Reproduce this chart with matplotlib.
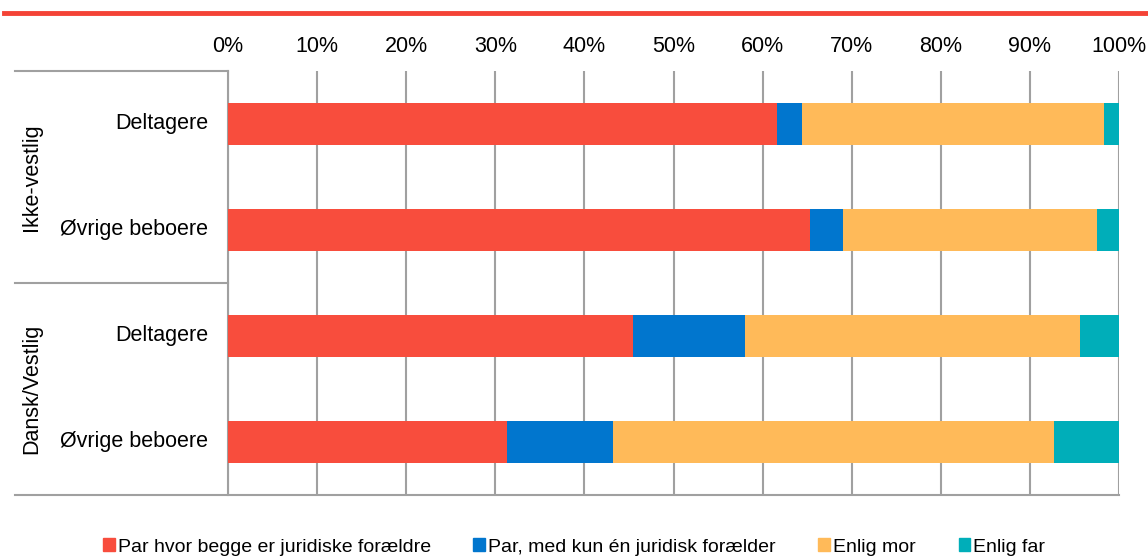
import numpy as np
import matplotlib.pyplot as plt
from matplotlib.lines import Line2D
from matplotlib.patches import Patch

plt.rcParams['font.family'] = ['Liberation Sans', 'DejaVu Sans']

# data (andele i procent)
kategorier = ["Deltagere", "Øvrige beboere", "Deltagere", "Øvrige beboere"]
grupper = ["Ikke-vestlig", "Dansk/Vestlig"]
serier = ["Par hvor begge er juridiske forældre", "Par, med kun én juridisk forælder",
          "Enlig mor", "Enlig far"]
par_begge = [61.6, 65.3, 45.5, 31.3]
par_en = [2.8, 3.7, 12.5, 11.9]
enlig_mor = [33.9, 28.5, 37.6, 49.5]
enlig_far = [1.7, 2.5, 4.4, 7.3]
farver = ["#F84D3D", "#0176CE", "#FFBA59", "#00AEB9"]

fig = plt.figure(figsize=(11.48, 5.56), dpi=100)
ax = fig.add_axes([228/1148, 1-495/556, (1119-228)/1148, (495-71)/556])

y = np.arange(len(kategorier))
venstre = np.zeros(len(kategorier))
for vals, farve, navn in zip([par_begge, par_en, enlig_mor, enlig_far], farver, serier):
    ax.barh(y, vals, left=venstre, height=0.4, color=farve, label=navn, zorder=3)
    venstre += np.array(vals)

ax.set_ylim(3.5, -0.5)
ax.set_xlim(0, 100)
ax.set_xticks(np.arange(0, 101, 10))
ax.set_xticklabels([f"{v}%" for v in range(0, 101, 10)], fontsize=15.5)
ax.xaxis.tick_top()
ax.tick_params(axis='x', length=0, pad=10)
ax.set_yticks([])
ax.grid(axis='x', color='#A0A0A0', linewidth=1.5, zorder=0)
for s in ['top', 'right', 'bottom']:
    ax.spines[s].set_visible(False)
ax.spines['left'].set_color('#A0A0A0')
ax.spines['left'].set_linewidth(1.5)

# kategoritekster
for i, k in enumerate(kategorier):
    ax.text(-2.2, i, k, ha='right', va='center', fontsize=15.5, clip_on=False)
for j, g in enumerate(grupper):
    fig.text(32/1148, 1-(177 + j*212)/556, g, rotation=90, ha='center', va='center', fontsize=15.5)

# grupperingslinjer
gr = '#A0A0A0'
fig.add_artist(Line2D([15/1148, 228/1148], [1-71/556, 1-71/556], color=gr, lw=1.5))
fig.add_artist(Line2D([15/1148, 228/1148], [1-283/556, 1-283/556], color=gr, lw=1.5))
fig.add_artist(Line2D([15/1148, 1119/1148], [1-495/556, 1-495/556], color=gr, lw=1.5))

# rød streg øverst
fig.add_artist(Line2D([4/1148, 1.0], [1-13/556, 1-13/556], color='#F44336', lw=3.5))

handles = [Patch(color=f) for f in farver]
fig.legend(handles, serier, loc='center', bbox_to_anchor=(0.5, 1-547/556), ncol=4,
           frameon=False, fontsize=14, handlelength=0.6, handleheight=0.6,
           handletextpad=0.15, columnspacing=2.2)

fig.savefig("out.png", dpi=100)
